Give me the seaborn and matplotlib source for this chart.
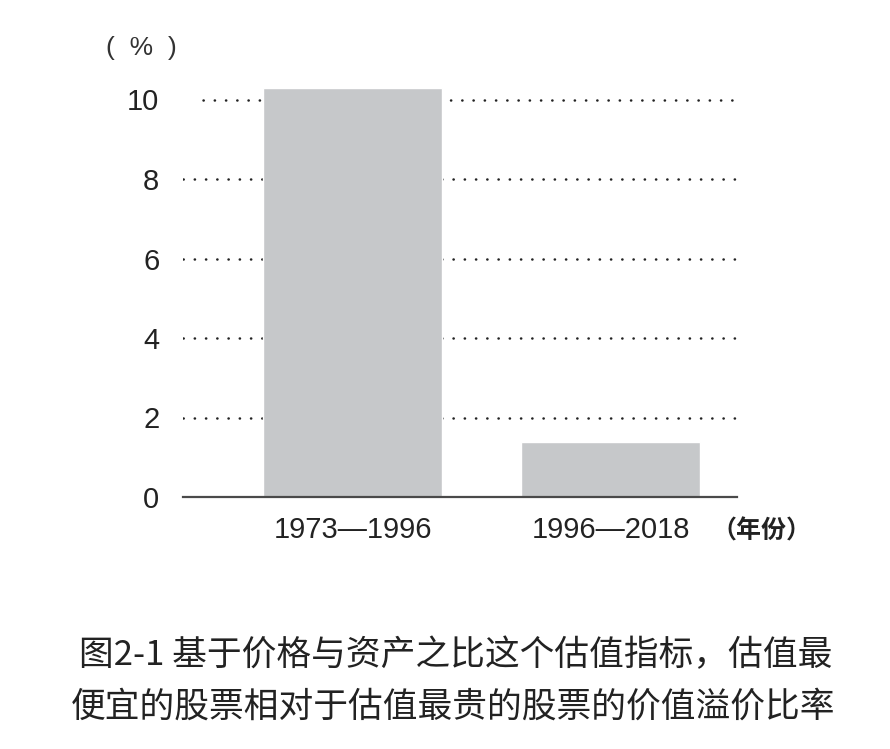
import numpy as np
import matplotlib
matplotlib.use("Agg")
import matplotlib.pyplot as plt
import seaborn as sns

# données
periods = ["1973—1996", "1996—2018"]
premium = [10.3, 1.38]
y_ticks = [0, 2, 4, 6, 8, 10]

caption_1 = "图2-1 基于价格与资产之比这个估值指标，估值最"
caption_2 = "便宜的股票相对于估值最贵的股票的价值溢价比率"

sns.set_theme(style="white")
plt.rcParams['font.family'] = ['Liberation Sans', 'Noto Sans CJK SC', 'DejaVu Sans']

fig = plt.figure(figsize=(8.9, 7.49), dpi=100)
ax = fig.add_axes([183 / 890, 1 - 497 / 749, (737 - 183) / 890, 11 * 39.75 / 749])

# lignes pointillées horizontales (derrière les barres)
for t in y_ticks[1:]:
    start = 0.037 if t == 10 else 0.0
    ax.axhline(t, xmin=start, xmax=1.0, color="#222222", lw=1.8,
               ls=(0, (0.1, 4.4)), dash_capstyle="round", zorder=0)

sns.barplot(x=periods, y=premium, color="#c6c8ca", saturation=1,
            width=0.694, ax=ax, zorder=2)

ax.set_xlim(-0.657, 1.49)
ax.set_ylim(0, 11)
ax.set_yticks(y_ticks)
ax.set_xlabel("")
ax.set_ylabel("")

for side in ["top", "right", "left"]:
    ax.spines[side].set_visible(False)
ax.spines["bottom"].set_color("#4a4a4a")
ax.spines["bottom"].set_linewidth(1.6)
ax.spines["bottom"].set_zorder(3)

ax.tick_params(axis="y", length=0, pad=17, labelsize=21, labelcolor="#222222")
ax.tick_params(axis="x", length=0, pad=14, labelsize=21, labelcolor="#222222")

fig.text(141 / 890, 1 - 48 / 749, "(  %  )", ha="center", va="center",
         fontsize=19, color="#333333")
fig.text(761 / 890, 1 - 531 / 749, "（年份）", ha="center", va="center",
         fontsize=18, fontweight="bold", color="#222222",
         family=['Noto Sans CJK SC', 'DejaVu Sans'])

fig.text(456 / 890, 1 - 656 / 749, caption_1, ha="center", va="center",
         fontsize=25, color="#222222", family=['Noto Sans CJK SC', 'DejaVu Sans'])
fig.text(453 / 890, 1 - 707 / 749, caption_2, ha="center", va="center",
         fontsize=25, color="#222222", family=['Noto Sans CJK SC', 'DejaVu Sans'])

fig.savefig("out.png", dpi=100)
